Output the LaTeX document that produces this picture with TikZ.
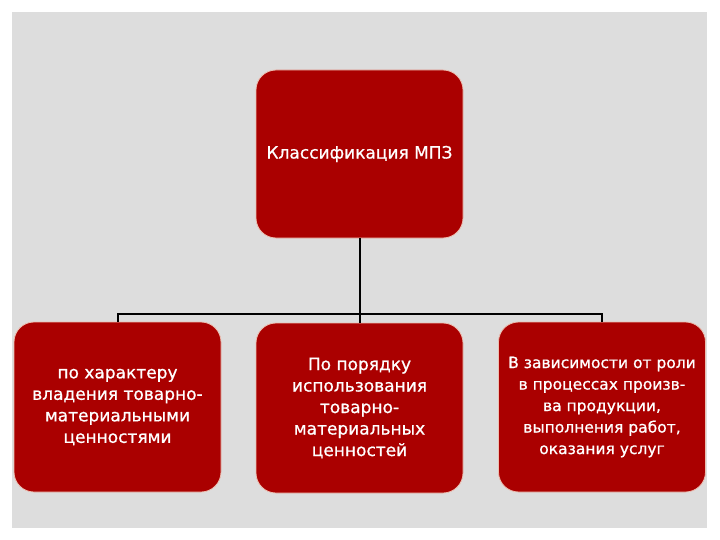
\documentclass[tikz,border=0pt]{standalone}
\usepackage{fontspec}
\setmainfont{DejaVu Sans}
\newfontfamily\boxfont[FakeBold=0.8]{DejaVu Sans}
\usetikzlibrary{positioning,calc}
\usepackage{xcolor}
\definecolor{slidegray}{RGB}{221,221,221}
\definecolor{boxred}{RGB}{170,0,0}
\definecolor{boxedge}{RGB}{236,190,176}

\begin{document}
\begin{tikzpicture}[x=1pt,y=-1pt,line width=2pt,
   redbox/.style={draw=boxedge,line width=0.8pt,fill=boxred,rounded corners=20pt,
      minimum width=207pt,inner sep=0pt,text=white,align=center,
      font=\boxfont\fontsize{17}{21.5}\selectfont}]

   \useasboundingbox (0,0) rectangle (720,540);
   \fill [white] (0,0) rectangle (720,540);
   \fill [slidegray] (12,12) rectangle (707,528);

   \node[redbox,minimum height=168pt] (mpz) at (359.5,154) {Классификация МПЗ};

   \node[redbox,minimum height=170pt] (own) at (117.5,407) {по характеру\\владения товарно-\\материальными\\ценностями};
   \node[redbox,minimum height=170pt] (use) at (359.5,408) {По порядку\\использования\\товарно-\\материальных\\ценностей};
   \node[redbox,minimum height=170pt,font=\boxfont\fontsize{15.5}{21.5}\selectfont] (role) at (602,407) {В зависимости от роли\\в процессах произв-\\ва продукции,\\выполнения работ,\\оказания услуг};

   \coordinate (bus) at (359.5,314);
   \draw [black] (mpz.south) -- (use.north);
   \draw [black] (own.north) -- (own.north |- bus) -- (role.north |- bus) -- (role.north);

\end{tikzpicture}
\end{document}
